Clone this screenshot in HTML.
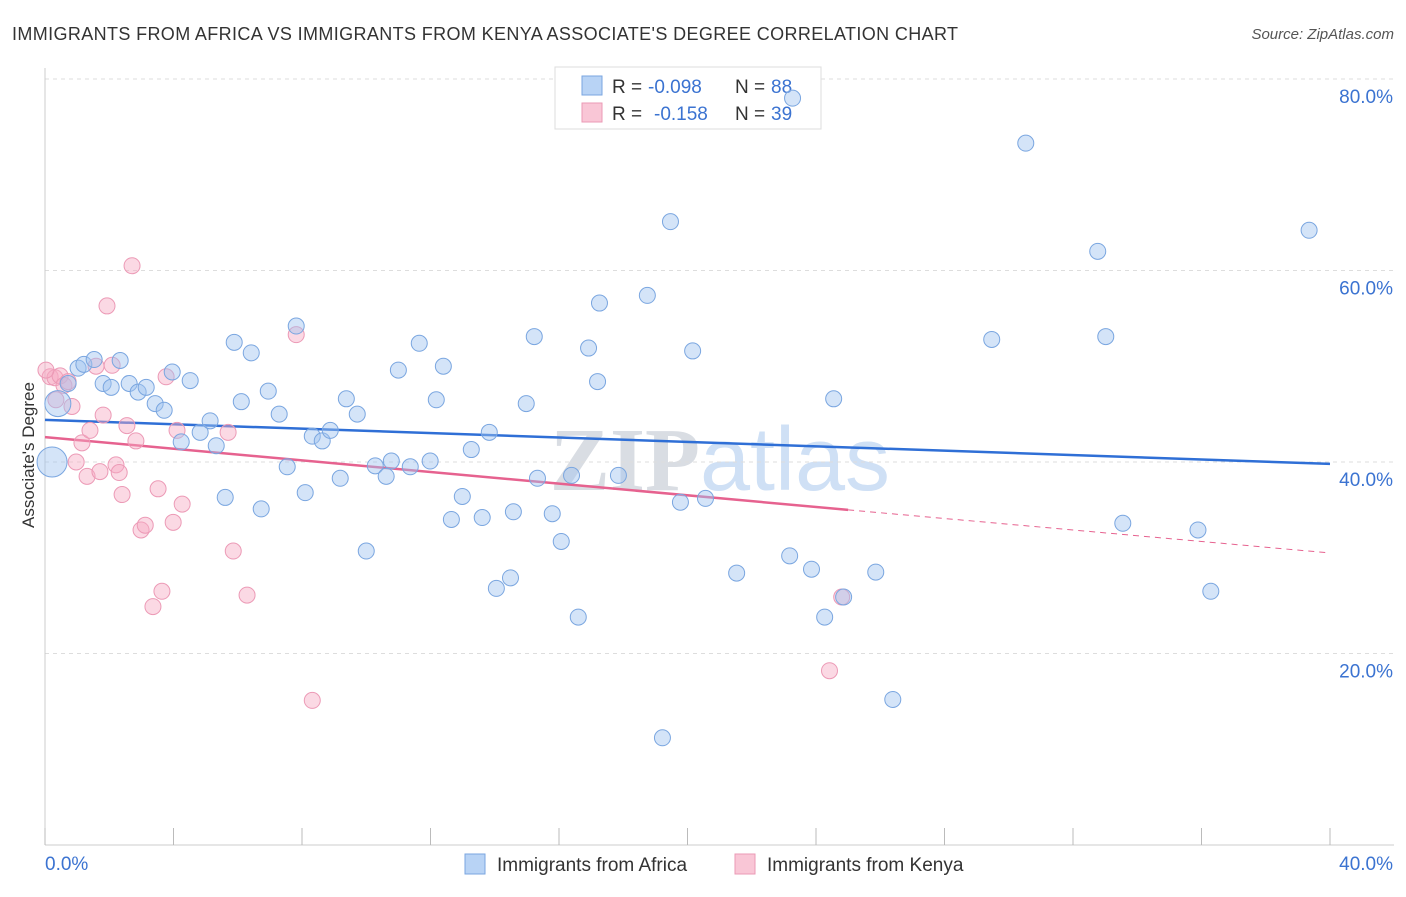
<!DOCTYPE html>
<html><head><meta charset="utf-8"><style>
body{margin:0;background:#fff;font-family:"Liberation Sans",sans-serif;}
svg text{font-family:"Liberation Sans",sans-serif;}
</style></head><body>
<svg width="1406" height="892" viewBox="0 0 1406 892">
<text x="12" y="40" font-size="18" fill="#333" textLength="946" lengthAdjust="spacing">IMMIGRANTS FROM AFRICA VS IMMIGRANTS FROM KENYA ASSOCIATE'S DEGREE CORRELATION CHART</text>
<text x="1394" y="39" font-size="15" fill="#555" text-anchor="end" font-style="italic">Source: ZipAtlas.com</text>
<text x="720" y="490" font-size="90" fill="#dde6f2" text-anchor="middle" font-weight="bold"><tspan fill="#d9dde3" font-family="Liberation Serif">ZIP</tspan><tspan fill="#cfe0f5" font-weight="normal">atlas</tspan></text>
<g id="grid"></g>
<g id="axes"></g>
<text transform="translate(34,455) rotate(-90)" font-size="17" fill="#333" text-anchor="middle">Associate's Degree</text>
<g>
<rect x="555" y="67" width="266" height="62" fill="#fff" stroke="#ddd"/>
<rect x="582" y="76" width="20" height="19" fill="#b8d3f5" stroke="#7aa6e0"/>
<rect x="582" y="103" width="20" height="19" fill="#f9c6d6" stroke="#eb9ab5"/>
<text y="93" font-size="19" fill="#333"><tspan x="612">R =</tspan><tspan x="648" fill="#3b73d1">-0.098</tspan><tspan x="735">N =</tspan><tspan x="771" fill="#3b73d1">88</tspan></text>
<text y="120" font-size="19" fill="#333"><tspan x="612">R =</tspan><tspan x="654" fill="#3b73d1">-0.158</tspan><tspan x="735">N =</tspan><tspan x="771" fill="#3b73d1">39</tspan></text>
</g>
<g id="trends"></g>
<g id="pts"></g>
<g>
<rect x="465" y="854" width="20" height="20" fill="#b8d3f5" stroke="#7aa6e0"/>
<text x="497" y="871" font-size="19" fill="#333">Immigrants from Africa</text>
<rect x="735" y="854" width="20" height="20" fill="#f9c6d6" stroke="#eb9ab5"/>
<text x="767" y="871" font-size="19" fill="#333">Immigrants from Kenya</text>
</g>
</svg>
<script>
const yTicks=[20,40,60,80];
const xTickLabels=["0.0%","40.0%"];
const blueX=[0.22,0.40,0.72,1.03,1.21,1.53,1.81,2.06,2.34,2.62,2.90,3.15,3.43,3.71,3.96,4.24,4.52,4.83,5.14,5.33,5.61,5.89,6.11,6.42,6.73,6.95,7.29,7.54,7.82,8.10,8.32,8.63,8.88,9.19,9.38,9.72,10.0,10.28,10.62,10.78,11.0,11.37,11.65,11.99,12.18,12.4,12.65,12.99,13.27,13.61,13.83,14.05,14.49,14.58,14.98,15.23,15.33,15.79,16.07,16.39,16.6,16.92,17.2,17.26,17.85,18.75,19.47,19.78,20.16,20.56,21.53,23.18,23.27,23.86,24.27,24.55,24.86,25.86,26.39,19.22,29.47,30.53,32.77,33.02,33.55,35.89,36.29,39.35];
const blueY=[40.0,46.1,48.2,49.8,50.2,50.7,48.2,47.8,50.6,48.2,47.3,47.8,46.1,45.4,49.4,42.1,48.5,43.1,44.3,41.7,36.3,52.5,46.3,51.4,35.1,47.4,45.0,39.5,54.2,36.8,42.7,42.2,43.3,38.3,46.6,45.0,30.7,39.6,38.5,40.1,49.6,39.5,52.4,40.1,46.5,50.0,34.0,36.4,41.3,34.2,43.1,26.8,27.9,34.8,46.1,53.1,38.3,34.6,31.7,38.6,23.8,51.9,48.4,56.6,38.6,57.4,65.1,35.8,51.6,36.2,28.4,30.2,78.0,28.8,23.8,46.6,25.9,28.5,15.2,11.2,52.8,73.3,62.0,53.1,33.6,32.9,26.5,64.2];
const pinkX=[0.16,0.31,0.47,0.59,0.72,0.84,0.97,1.15,1.31,1.40,1.59,1.71,1.81,1.93,2.09,2.21,2.31,2.40,2.55,2.71,2.83,2.99,3.12,3.36,3.52,3.64,3.77,3.99,4.11,4.27,5.70,5.86,6.29,7.82,8.32,24.42,24.80,0.03,0.34];
const pinkY=[48.9,48.8,49.0,48.0,48.4,45.8,40.0,42.0,38.5,43.3,50.0,39.0,44.9,56.3,50.1,39.7,38.9,36.6,43.8,60.5,42.2,32.9,33.4,24.9,37.2,26.5,48.9,33.7,43.3,35.6,43.1,30.7,26.1,53.3,15.1,18.2,25.9,49.6,46.5];
const blueTrend=[44.4,39.8];
const pinkTrend=[42.6,35.0,30.5];
const pinkSolidEnd=25;
const NS="http://www.w3.org/2000/svg";
const X=v=>45+v*32.125, Y=v=>845-v*9.575;
function mk(t,a,p){const e=document.createElementNS(NS,t);for(const k in a)e.setAttribute(k,a[k]);p.appendChild(e);return e;}
const grid=document.getElementById('grid'),axes=document.getElementById('axes');
yTicks.forEach(t=>{
 const l=mk('line',{x1:45,x2:1394,y1:Y(t),y2:Y(t),stroke:'#ddd','stroke-dasharray':'4,4'},grid);
 
 
 const tx=mk('text',{x:1393,y:Y(t)+24,'font-size':19,fill:'#3b73d1','text-anchor':'end'},grid);
 tx.textContent=t.toFixed(1)+'%';
 
 
});
mk('line',{x1:45,x2:1394,y1:845,y2:845,stroke:'#ccc'},axes);
mk('line',{x1:45,x2:45,y1:68,y2:845,stroke:'#ccc'},axes);
for(let i=0;i<=10;i++){mk('line',{x1:X(i*4),x2:X(i*4),y1:828,y2:845,stroke:'#bbb'},axes);}
[[0,'start',45],[40,'end',1393]].forEach((d,i)=>{const t=mk('text',{x:d[2],y:870,'font-size':19,fill:'#3b73d1','text-anchor':d[1]},axes);t.textContent=xTickLabels[i];
 
 });
const tr=document.getElementById('trends');
const bl=mk('line',{x1:X(0),y1:Y(blueTrend[0]),x2:X(40),y2:Y(blueTrend[1]),stroke:'#2f6fd6','stroke-width':2.5},tr);


const pl=mk('line',{x1:X(0),y1:Y(pinkTrend[0]),x2:X(pinkSolidEnd),y2:Y(pinkTrend[1]),stroke:'#e6628f','stroke-width':2.5},tr);


const pd=mk('line',{x1:X(pinkSolidEnd),y1:Y(pinkTrend[1]),x2:X(40),y2:Y(pinkTrend[2]),stroke:'#e6628f','stroke-width':1,'stroke-dasharray':'6,5'},tr);


const pts=document.getElementById('pts');
pinkX.forEach((x,i)=>{const c=mk('circle',{cx:X(x),cy:Y(pinkY[i]),r:8,fill:'rgba(246,170,196,0.45)',stroke:'#ec9ab6','stroke-width':1},pts);
 
 });
blueX.forEach((x,i)=>{const r=i==0?15:(i==1?13:8);const c=mk('circle',{cx:X(x),cy:Y(blueY[i]),r:r,fill:'rgba(160,196,240,0.45)',stroke:'#7aa6e0','stroke-width':1},pts);
 
 });
</script>
</body></html>
